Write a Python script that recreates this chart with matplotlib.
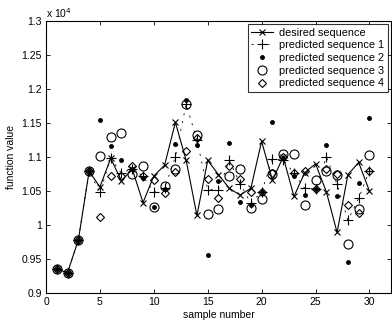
import matplotlib
matplotlib.use("Agg")
import matplotlib.pyplot as plt
from matplotlib.ticker import FuncFormatter

plt.rcParams['font.family'] = ['Liberation Sans', 'DejaVu Sans']

# values in units of 1e4
samples = list(range(1, 31))
desired = [0.935, 0.930, 0.978, 1.079, 1.056, 1.098, 1.065, 1.082, 1.033, 1.072,
           1.088, 1.151, 1.095, 1.014, 1.095, 1.074, 1.054, 1.044, 1.054, 1.123,
           1.066, 1.100, 1.042, 1.077, 1.090, 1.049, 0.989, 1.074, 1.092, 1.050]
pred1 = [0.935, 0.930, 0.978, 1.079, 1.048, 1.098, 1.076, 1.083, 1.072, 1.048,
         1.054, 1.100, 1.178, 1.125, 1.052, 1.052, 1.095, 1.061, 1.032, 1.049,
         1.097, 1.096, 1.076, 1.054, 1.053, 1.100, 1.060, 1.007, 1.039, 1.080]
pred2 = [0.935, 0.930, 0.978, 1.079, 1.154, 1.116, 1.096, 1.082, 1.069, 1.026,
         1.053, 1.119, 1.184, 1.118, 0.956, 1.064, 1.121, 1.034, 1.029, 1.048,
         1.152, 1.098, 1.072, 1.044, 1.053, 1.117, 1.043, 0.945, 1.062, 1.157]
pred3 = [0.935, 0.930, 0.978, 1.079, 1.101, 1.130, 1.136, 1.075, 1.087, 1.026,
         1.058, 1.083, 1.178, 1.132, 1.016, 1.023, 1.072, 1.083, 1.025, 1.038,
         1.075, 1.104, 1.104, 1.029, 1.066, 1.080, 1.074, 0.972, 1.023, 1.103]
pred4 = [0.935, 0.930, 0.978, 1.079, 1.012, 1.072, 1.072, 1.087, 1.072, 1.066,
         1.047, 1.078, 1.109, 1.128, 1.067, 1.039, 1.087, 1.067, 1.049, 1.049,
         1.076, 1.100, 1.076, 1.080, 1.053, 1.082, 1.075, 1.029, 1.017, 1.080]

xticks = [0, 5, 10, 15, 20, 25, 30]
yticks = [0.9, 0.95, 1.0, 1.05, 1.1, 1.15, 1.2, 1.25, 1.3]

fig = plt.figure(figsize=(3.92, 3.29), dpi=100)
ax = fig.add_axes([46 / 392, 1 - 293 / 329, 345 / 392, 272 / 329])

ax.plot(samples, desired, '-x', color='k', lw=0.8, ms=4, mew=0.8, label='desired sequence')
ax.plot(samples, pred1, '+', color='k', ls=(0, (2.5, 7)), lw=0.6, ms=7, mew=0.8,
        label='predicted sequence 1')
ax.plot(samples, pred2, '.', color='k', ms=5, label='predicted sequence 2')
ax.plot(samples, pred3, 'o', color='k', mfc='none', ms=6.5, mew=0.8, label='predicted sequence 3')
ax.plot(samples, pred4, 'D', color='k', mfc='none', ms=4.5, mew=0.8, label='predicted sequence 4')

ax.set_xlim(0, 32)
ax.set_ylim(0.9, 1.3)
ax.set_xticks(xticks)
ax.set_yticks(yticks)
ax.yaxis.set_major_formatter(FuncFormatter(lambda v, p: ('%.2f' % v).rstrip('0').rstrip('.')))
ax.tick_params(direction='in', top=True, right=True, labelsize=7.5, length=3, width=0.6, pad=3)
for s in ax.spines.values():
    s.set_linewidth(0.8)

ax.set_xlabel('sample number', fontsize=7.5, labelpad=2)
ax.set_ylabel('function value', fontsize=7.5, labelpad=4)
ax.text(0, 1.302, 'x 10$^{4}$', fontsize=7.5, ha='left', va='bottom', transform=ax.transData)

leg = ax.legend(loc='upper right', fontsize=7.8, frameon=True, fancybox=False,
                handlelength=2.0, handletextpad=0.6, borderpad=0.3, labelspacing=0.25,
                borderaxespad=0.3)
leg.get_frame().set_edgecolor('k')
leg.get_frame().set_linewidth(0.8)

fig.savefig('out.png', dpi=100)
